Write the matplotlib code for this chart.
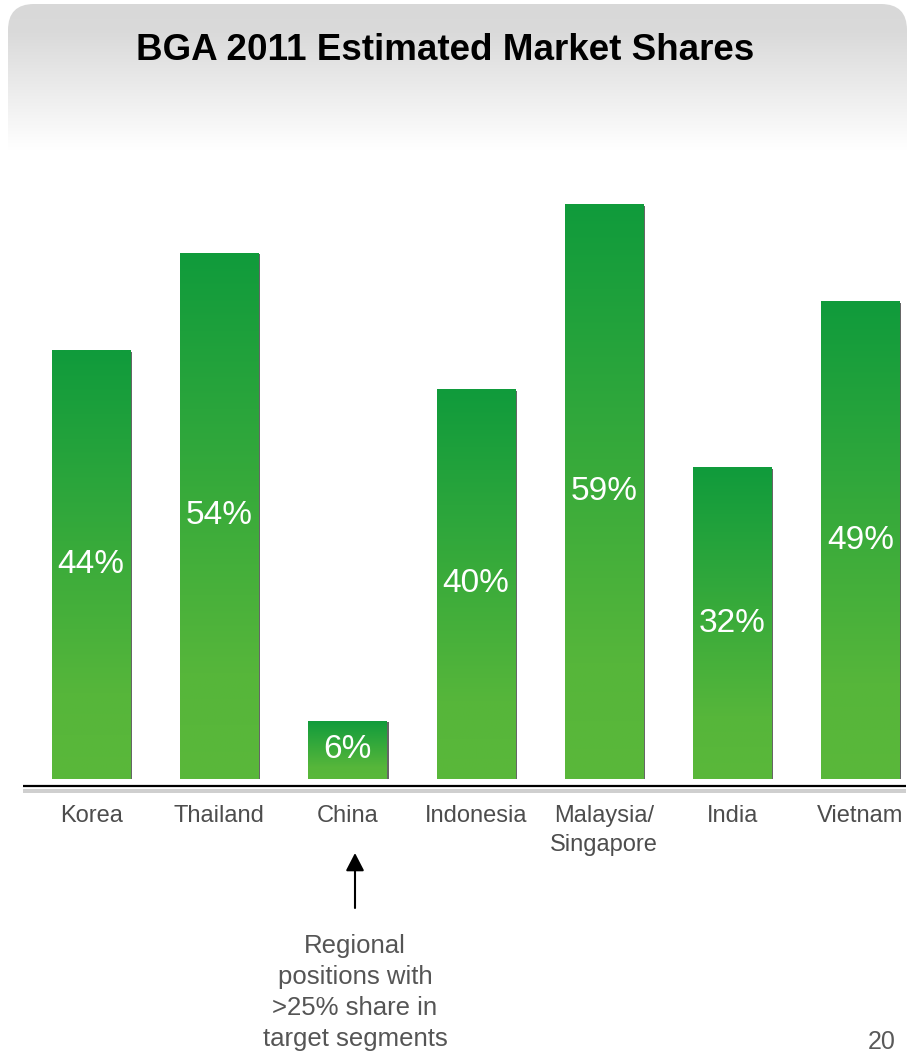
import numpy as np
import matplotlib
matplotlib.use("Agg")
import matplotlib.pyplot as plt
from matplotlib.colors import LinearSegmentedColormap
from matplotlib.patches import FancyBboxPatch, Rectangle
import matplotlib.patheffects as pe

plt.rcParams['font.family'] = ['Liberation Sans', 'DejaVu Sans']

# ---- data ----
categories = ["Korea", "Thailand", "China", "Indonesia", "Malaysia/\nSingapore", "India", "Vietnam"]
shares = [44, 54, 6, 40, 59, 32, 49]
title = "BGA 2011 Estimated Market Shares"
note_lines = ["Regional", "positions with", ">25% share in", "target segments"]
page_number = "20"

W, H = 908, 1055
fig = plt.figure(figsize=(W / 100, H / 100), dpi=100)
fig.patch.set_facecolor("white")

# background / decoration axes in pixel coordinates
bg = fig.add_axes([0, 0, 1, 1])
bg.set_xlim(0, W)
bg.set_ylim(H, 0)
bg.axis("off")

# header with gray gradient and rounded corners
hdr = FancyBboxPatch((8, 4), 899, 170, boxstyle="round,pad=0,rounding_size=26",
                     facecolor="none", edgecolor="none", transform=bg.transData)
bg.add_patch(hdr)
hcmap = LinearSegmentedColormap.from_list("hdr", [(0, "#d8d8d8"), (0.2, "#dadada"), (1.0, "#ffffff")])
grad = np.linspace(0, 1, 256).reshape(-1, 1)
im = bg.imshow(grad, cmap=hcmap, extent=[8, 907, 150, 4], aspect="auto", zorder=1,
               interpolation="bilinear")
im.set_clip_path(hdr)
bg.set_xlim(0, W)
bg.set_ylim(H, 0)
bg.text(445, 51, title, ha="center", va="center", fontsize=26.5, fontweight="bold",
        color="black", zorder=3)

# baseline: black line and light gray band
bg.plot([23, 906], [786, 786], color="black", lw=1.6, solid_capstyle="butt", zorder=3)
bg.add_patch(Rectangle((23, 789), 883, 4, facecolor="#cfcfcf", edgecolor="none", zorder=3))

# arrow and note
bg.annotate("", xy=(355, 853), xytext=(355, 908),
            arrowprops=dict(arrowstyle="-|>,head_length=0.6,head_width=0.31",
                            mutation_scale=18, color="black", lw=1.5,
                            shrinkA=0, shrinkB=0), zorder=3)
for i, line in enumerate(note_lines):
    bg.text(355, 953 + i * 31, line, ha="center", va="baseline", fontsize=18.5,
            color="#555555", zorder=3)
bg.text(896, 1049, page_number, ha="right", va="baseline", fontsize=18, color="#595959")

# bar chart axes
ax = fig.add_axes([27 / W, 1 - 779 / H, 881 / W, 585 / H])
ax.patch.set_alpha(0)
xlim = (-0.5, -0.5 + 881 / 128.2)
ylim = (0, 60)
x = np.arange(len(categories))
width = 0.61
bars = ax.bar(x, shares, width=width, color="#58b63a", zorder=2,
              path_effects=[pe.SimplePatchShadow(offset=(1.4, -1.4), shadow_rgbFace="#555555", alpha=0.9),
                            pe.Normal()])
gcmap = LinearSegmentedColormap.from_list("bar", [(0, "#5ab83a"), (0.2, "#56b63a"), (1.0, "#109b3c")])
for b, v in zip(bars, shares):
    x0 = b.get_x()
    gi = ax.imshow(grad, cmap=gcmap, origin="lower", extent=[x0, x0 + b.get_width(), 0, v],
                   aspect="auto", zorder=3, interpolation="bilinear")
    gi.set_clip_path(b)
    ax.text(b.get_x() + b.get_width() / 2, v / 2, f"{v}%", ha="center", va="center",
            color="white", fontsize=24, zorder=4)

ax.set_xlim(*xlim)
ax.set_ylim(*ylim)
ax.set_xticks(x)
ax.set_xticklabels(categories, fontsize=17, color="#4d4d4d", linespacing=1.4)
ax.tick_params(axis="x", length=0, pad=19)
ax.set_yticks([])
for s in ax.spines.values():
    s.set_visible(False)

fig.savefig("out.png", dpi=100, facecolor="white")
